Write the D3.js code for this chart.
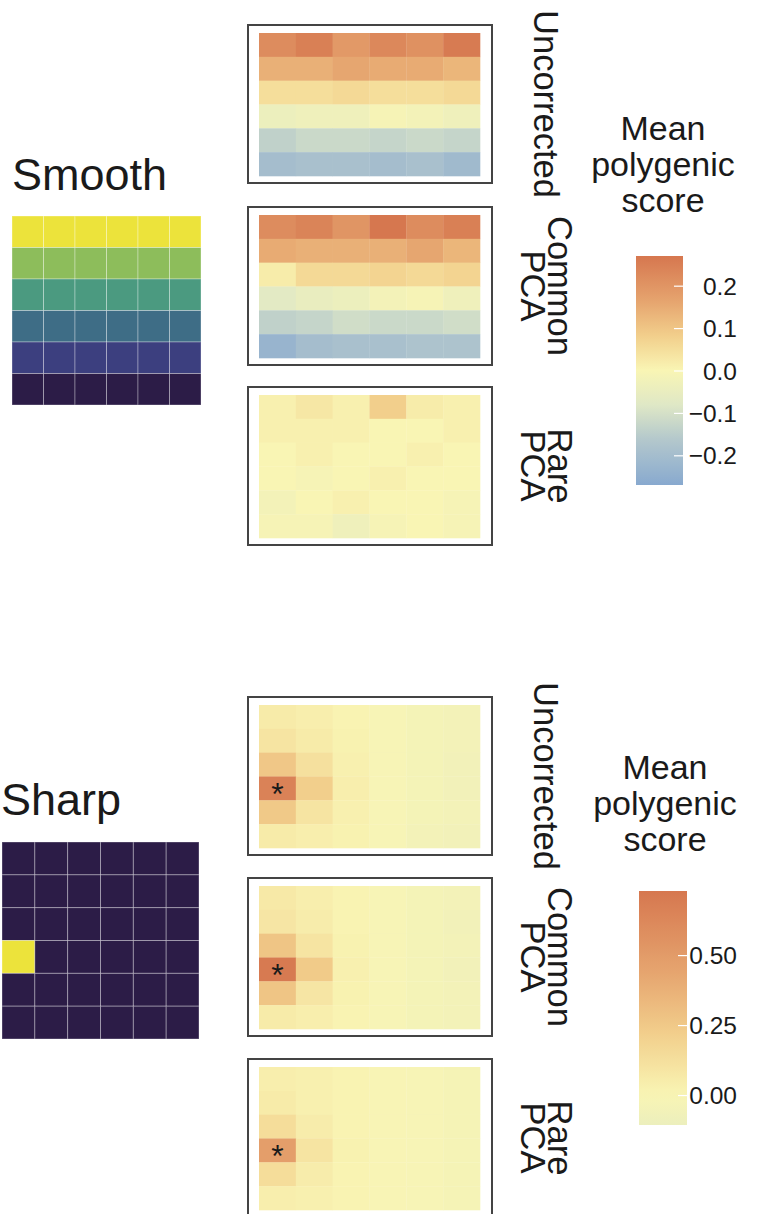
<!DOCTYPE html>
<html>
<head>
<meta charset="utf-8">
<script src="https://cdn.jsdelivr.net/npm/d3@7"></script>
<style>
  html, body { margin: 0; padding: 0; background: #fff; }
  text { font-family: "Liberation Sans", Arial, Helvetica, sans-serif; fill: #1a1a1a; }
</style>
</head>
<body>
<svg id="fig" width="758" height="1214"></svg>
<script>
// ---- grid coordinates (6 x 6 demes) ----
const cols = [0, 1, 2, 3, 4, 5];
const rows = [0, 1, 2, 3, 4, 5];

// strip labels for the three correction methods
const methodLabels = [["Uncorrected"], ["Common", "PCA"], ["Rare", "PCA"]];

// environmental effect used in the simulation (row 0 = top row)
const smoothEffect = [
  [1.0, 1.0, 1.0, 1.0, 1.0, 1.0],
  [0.8, 0.8, 0.8, 0.8, 0.8, 0.8],
  [0.6, 0.6, 0.6, 0.6, 0.6, 0.6],
  [0.4, 0.4, 0.4, 0.4, 0.4, 0.4],
  [0.2, 0.2, 0.2, 0.2, 0.2, 0.2],
  [0.0, 0.0, 0.0, 0.0, 0.0, 0.0]
];
const sharpEffect = [
  [0, 0, 0, 0, 0, 0],
  [0, 0, 0, 0, 0, 0],
  [0, 0, 0, 0, 0, 0],
  [1, 0, 0, 0, 0, 0],
  [0, 0, 0, 0, 0, 0],
  [0, 0, 0, 0, 0, 0]
];

// mean polygenic score per deme, smooth gradient
const smoothUncorrected = [
  [0.22, 0.25, 0.19, 0.23, 0.21, 0.26],
  [0.14, 0.14, 0.16, 0.15, 0.15, 0.13],
  [0.05, 0.05, 0.06, 0.05, 0.05, 0.06],
  [-0.04, -0.03, -0.03, -0.01, -0.02, -0.03],
  [-0.14, -0.12, -0.12, -0.13, -0.12, -0.13],
  [-0.20, -0.19, -0.19, -0.20, -0.19, -0.21]
];
const smoothCommonPCA = [
  [0.22, 0.24, 0.20, 0.27, 0.22, 0.25],
  [0.15, 0.14, 0.14, 0.14, 0.16, 0.13],
  [0.02, 0.06, 0.06, 0.07, 0.06, 0.07],
  [-0.07, -0.05, -0.04, -0.02, -0.01, -0.03],
  [-0.14, -0.13, -0.11, -0.12, -0.12, -0.11],
  [-0.23, -0.20, -0.19, -0.19, -0.18, -0.18]
];
const smoothRarePCA = [
  [0.01, 0.03, 0.01, 0.08, 0.02, 0.01],
  [0.01, 0.01, 0.01, 0.00, 0.00, 0.01],
  [0.00, 0.01, 0.00, 0.00, 0.01, 0.00],
  [0.00, -0.01, 0.00, 0.01, 0.00, 0.00],
  [-0.02, 0.00, 0.01, 0.00, 0.00, -0.01],
  [-0.01, -0.01, -0.03, -0.01, 0.00, -0.01]
];

// mean polygenic score per deme, sharp (single-deme) effect
const sharpUncorrected = [
  [0.06, 0.04, 0.01, -0.02, -0.04, -0.05],
  [0.10, 0.06, 0.02, -0.02, -0.04, -0.05],
  [0.26, 0.12, 0.03, -0.02, -0.04, -0.06],
  [0.66, 0.22, 0.04, -0.02, -0.04, -0.06],
  [0.25, 0.10, 0.03, -0.02, -0.04, -0.05],
  [0.06, 0.04, 0.02, -0.02, -0.05, -0.06]
];
const sharpCommonPCA = [
  [0.07, 0.04, 0.01, -0.02, -0.04, -0.05],
  [0.09, 0.05, 0.01, -0.02, -0.04, -0.06],
  [0.27, 0.10, 0.02, -0.02, -0.04, -0.05],
  [0.71, 0.24, 0.03, -0.02, -0.04, -0.06],
  [0.27, 0.09, 0.02, -0.02, -0.04, -0.05],
  [0.06, 0.04, 0.01, -0.02, -0.04, -0.05]
];
const sharpRarePCA = [
  [0.04, 0.03, 0.01, -0.01, -0.02, -0.03],
  [0.06, 0.03, 0.01, -0.01, -0.02, -0.03],
  [0.14, 0.05, 0.01, -0.01, -0.02, -0.03],
  [0.48, 0.10, 0.02, -0.01, -0.02, -0.03],
  [0.14, 0.05, 0.01, -0.01, -0.02, -0.03],
  [0.04, 0.03, 0.01, -0.01, -0.02, -0.03]
];

// significance markers: [panel index, row, col]
const sharpStars = [[0, 3, 0], [1, 3, 0], [2, 3, 0]];

// colour bar limits and ticks
const smoothLimits = [-0.27, 0.27];
const sharpLimits = [-0.107, 0.729];
const smoothTicks = [-0.2, -0.1, 0.0, 0.1, 0.2];
const sharpTicks = [0.0, 0.25, 0.5];
const legendTitle = ["Mean", "polygenic", "score"];

// ---- colour scales ----
const effectColor = d3.scaleLinear()
  .domain([0, 0.2, 0.4, 0.6, 0.8, 1])
  .range(["#2c1c47", "#3c3f7f", "#3e6d86", "#4b9a80", "#8dbd5b", "#ece33b"])
  .clamp(true);

// diverging palette on [-1, 1], centred on zero
const divergent = d3.scaleLinear()
  .domain([-1, -0.6, -0.3, 0, 0.3, 0.6, 1])
  .range(["#88a9cf", "#b4c8cc", "#dfe8c6", "#f9f5b4", "#f2cf8c", "#e6a56f", "#d6774f"])
  .clamp(true);

const svg = d3.select("#fig");
const defs = svg.append("defs");
svg.append("rect").attr("width", 758).attr("height", 1214).attr("fill", "#fff");

function drawSection(cfg) {
  const g = svg.append("g");
  const lim = Math.max(Math.abs(cfg.limits[0]), Math.abs(cfg.limits[1]));
  const fill = v => divergent(v / lim);

  // section title
  g.append("text")
    .attr("x", cfg.titleX).attr("y", cfg.titleY)
    .attr("font-size", 45)
    .text(cfg.title);

  // simulated environmental effect
  const ex = d3.scaleBand().domain(cols).range([cfg.effectX, cfg.effectX + cfg.effectSize]);
  const ey = d3.scaleBand().domain(rows).range([cfg.effectY, cfg.effectY + cfg.effectSize]);
  const effCells = [];
  rows.forEach(r => cols.forEach(c => effCells.push({ r, c, v: cfg.effect[r][c] })));
  g.append("g").selectAll("rect").data(effCells).join("rect")
    .attr("x", d => ex(d.c)).attr("y", d => ey(d.r))
    .attr("width", ex.bandwidth()).attr("height", ey.bandwidth())
    .attr("fill", d => effectColor(d.v))
    .attr("stroke", "rgba(255,255,255,0.32)").attr("stroke-width", 1);

  // three correction panels
  cfg.panels.forEach((mat, i) => {
    const top = cfg.panelTops[i];
    const pg = g.append("g");
    pg.append("rect")
      .attr("x", 248).attr("y", top).attr("width", 244).attr("height", 158)
      .attr("fill", "#fff").attr("stroke", "#444").attr("stroke-width", 2);

    const x = d3.scaleBand().domain(cols).range([259, 480]);
    const y = d3.scaleBand().domain(rows).range([top + 8, top + 151]);
    const cells = [];
    rows.forEach(r => cols.forEach(c => cells.push({ r, c, v: mat[r][c] })));
    pg.append("g").selectAll("rect").data(cells).join("rect")
      .attr("x", d => x(d.c)).attr("y", d => y(d.r))
      .attr("width", x.bandwidth() + 0.3).attr("height", y.bandwidth() + 0.3)
      .attr("fill", d => fill(d.v));

    // significance stars
    (cfg.stars || []).filter(s => s[0] === i).forEach(s => {
      pg.append("text")
        .attr("x", x(s[2]) + x.bandwidth() / 2)
        .attr("y", y(s[1]) + y.bandwidth() / 2 + 17)
        .attr("text-anchor", "middle")
        .attr("font-size", 32)
        .text("*");
    });

    // strip label, rotated to read downward
    const lines = methodLabels[i];
    const lh = 27;
    const st = pg.append("text")
      .attr("transform", `translate(546,${top + 79}) rotate(90)`)
      .attr("text-anchor", "middle")
      .attr("font-size", 34.5);
    lines.forEach((ln, k) => {
      st.append("tspan")
        .attr("x", 0)
        .attr("y", (k - (lines.length - 1) / 2) * lh)
        .attr("dominant-baseline", "central")
        .text(ln);
    });
  });

  // legend title
  legendTitle.forEach((t, k) => {
    g.append("text")
      .attr("x", cfg.legendX).attr("y", cfg.legendTitleY + k * 36)
      .attr("text-anchor", "middle").attr("font-size", 34)
      .text(t);
  });

  // colour bar
  const gid = "grad-" + cfg.title;
  const grad = defs.append("linearGradient").attr("id", gid)
    .attr("x1", 0).attr("y1", 1).attr("x2", 0).attr("y2", 0);
  d3.range(0, 1.0001, 0.05).forEach(t => {
    const v = cfg.limits[0] + t * (cfg.limits[1] - cfg.limits[0]);
    grad.append("stop").attr("offset", t).attr("stop-color", fill(v));
  });
  g.append("rect")
    .attr("x", cfg.barX).attr("y", cfg.barTop)
    .attr("width", cfg.barW).attr("height", cfg.barBottom - cfg.barTop)
    .attr("fill", `url(#${gid})`);

  const ys = d3.scaleLinear().domain(cfg.limits).range([cfg.barBottom, cfg.barTop]);
  const axis = d3.axisRight(ys)
    .tickValues(cfg.ticks)
    .tickFormat(d3.format(cfg.fmt))
    .tickSizeInner(-9).tickSizeOuter(0).tickPadding(0);
  const ag = g.append("g")
    .attr("transform", `translate(${cfg.barX + cfg.barW},0)`)
    .call(axis);
  ag.select(".domain").remove();
  ag.selectAll(".tick line").attr("stroke", "#fff").attr("stroke-width", 1.2);
  ag.selectAll(".tick text")
    .attr("x", cfg.labelRight - (cfg.barX + cfg.barW))
    .attr("dy", "0.35em")
    .attr("text-anchor", "end")
    .attr("font-size", 24.5)
    .attr("font-family", "Liberation Sans, Arial, sans-serif")
    .attr("fill", "#1a1a1a");
}

drawSection({
  title: "Smooth", titleX: 12, titleY: 190,
  effect: smoothEffect, effectX: 12, effectY: 216, effectSize: 189,
  panels: [smoothUncorrected, smoothCommonPCA, smoothRarePCA],
  panelTops: [25, 207, 387],
  limits: smoothLimits, ticks: smoothTicks, fmt: ".1f",
  legendX: 663, legendTitleY: 140,
  barX: 636, barW: 47, barTop: 256, barBottom: 485, labelRight: 737
});

drawSection({
  title: "Sharp", titleX: 1, titleY: 815,
  effect: sharpEffect, effectX: 2, effectY: 842, effectSize: 197,
  panels: [sharpUncorrected, sharpCommonPCA, sharpRarePCA],
  panelTops: [697, 878, 1059],
  stars: sharpStars,
  limits: sharpLimits, ticks: sharpTicks, fmt: ".2f",
  legendX: 665, legendTitleY: 779,
  barX: 639, barW: 48, barTop: 891, barBottom: 1125, labelRight: 737
});
</script>
</body>
</html>
